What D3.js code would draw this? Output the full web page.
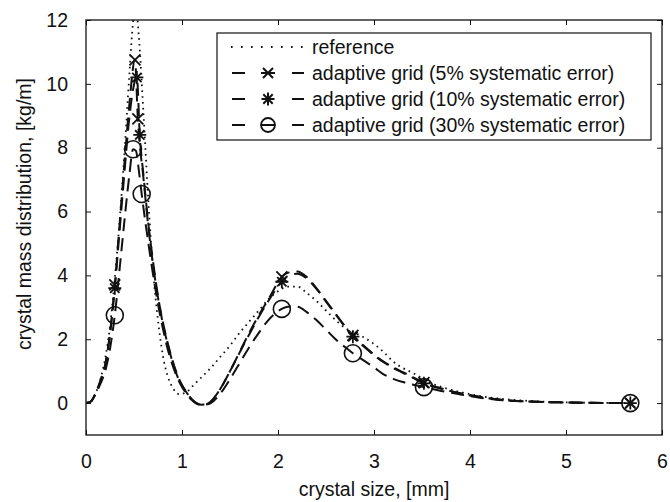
<!DOCTYPE html>
<html>
<head>
<meta charset="utf-8">
<script src="https://cdn.jsdelivr.net/npm/d3@7"></script>
<style>
  body { margin: 0; background: #fff; }
  svg text { font-family: "Liberation Sans", Arial, sans-serif; fill: #111; }
</style>
</head>
<body>
<svg id="chart" width="670" height="502"></svg>
<script>
// reference solution (dotted)
const refSize = [0, 0.05, 0.1, 0.15, 0.2, 0.25, 0.3, 0.35, 0.4, 0.45, 0.5, 0.52, 0.55, 0.6, 0.65, 0.7, 0.75, 0.8, 0.85, 0.9, 0.97, 1.05, 1.1, 1.2, 1.3, 1.4, 1.5, 1.6, 1.7, 1.8, 1.9, 2.0, 2.1, 2.2, 2.3, 2.4, 2.5, 2.6, 2.7, 2.8, 2.9, 3.0, 3.1, 3.2, 3.3, 3.4, 3.5, 3.6, 3.8, 4.0, 4.3, 4.6, 5.0, 5.67];
const refMass = [0, 0.05, 0.3, 0.75, 1.4, 2.4, 3.9, 5.7, 7.8, 10.2, 12.2, 12.4, 11.5, 9.0, 6.3, 4.1, 2.6, 1.5, 0.85, 0.5, 0.28, 0.35, 0.5, 0.8, 1.1, 1.45, 1.8, 2.2, 2.55, 2.9, 3.25, 3.5, 3.65, 3.65, 3.45, 3.2, 2.9, 2.6, 2.35, 2.2, 2.05, 1.85, 1.6, 1.3, 1.1, 0.95, 0.78, 0.62, 0.42, 0.28, 0.14, 0.07, 0.02, 0];

// adaptive grid, 5% systematic error
const g5Size = [0, 0.05, 0.1, 0.15, 0.2, 0.25, 0.3, 0.35, 0.4, 0.45, 0.51, 0.54, 0.6, 0.65, 0.7, 0.75, 0.8, 0.85, 0.9, 0.95, 1.0, 1.05, 1.1, 1.15, 1.2, 1.25, 1.3, 1.4, 1.5, 1.6, 1.7, 1.8, 1.9, 2.04, 2.1, 2.2, 2.3, 2.4, 2.5, 2.6, 2.7, 2.78, 2.9, 3.0, 3.1, 3.2, 3.3, 3.4, 3.52, 3.7, 3.9, 4.1, 4.3, 4.6, 5.0, 5.67];
const g5Mass = [0, 0.05, 0.3, 0.7, 1.2, 2.2, 3.7, 5.6, 7.5, 9.3, 10.75, 8.9, 7.0, 5.5, 4.3, 3.3, 2.5, 1.85, 1.3, 0.85, 0.55, 0.32, 0.12, 0.0, -0.05, -0.04, 0.05, 0.45, 1.0, 1.6, 2.2, 2.75, 3.25, 3.95, 4.08, 4.12, 3.95, 3.6, 3.2, 2.8, 2.4, 2.12, 1.78, 1.52, 1.3, 1.12, 0.97, 0.82, 0.64, 0.46, 0.31, 0.2, 0.11, 0.05, 0.02, 0];

// adaptive grid, 10% systematic error
const g10Size = [0, 0.05, 0.1, 0.15, 0.2, 0.25, 0.3, 0.35, 0.4, 0.45, 0.53, 0.56, 0.6, 0.65, 0.7, 0.75, 0.8, 0.85, 0.9, 0.95, 1.0, 1.05, 1.1, 1.15, 1.2, 1.25, 1.3, 1.4, 1.5, 1.6, 1.7, 1.8, 1.9, 2.04, 2.1, 2.2, 2.3, 2.4, 2.5, 2.6, 2.7, 2.78, 2.9, 3.0, 3.1, 3.2, 3.3, 3.4, 3.52, 3.7, 3.9, 4.1, 4.3, 4.6, 5.0, 5.67];
const g10Mass = [0, 0.05, 0.3, 0.7, 1.2, 2.15, 3.6, 5.4, 7.2, 8.9, 10.2, 8.4, 7.1, 5.6, 4.4, 3.35, 2.55, 1.9, 1.35, 0.9, 0.57, 0.33, 0.13, 0.0, -0.05, -0.04, 0.05, 0.45, 1.0, 1.58, 2.15, 2.7, 3.2, 3.8, 3.98, 4.05, 3.9, 3.58, 3.18, 2.78, 2.38, 2.08, 1.76, 1.5, 1.28, 1.1, 0.95, 0.8, 0.62, 0.45, 0.3, 0.19, 0.11, 0.05, 0.02, 0];

// adaptive grid, 30% systematic error
const g30Size = [0, 0.05, 0.1, 0.15, 0.2, 0.25, 0.3, 0.35, 0.4, 0.45, 0.49, 0.52, 0.55, 0.58, 0.65, 0.7, 0.75, 0.8, 0.85, 0.9, 0.95, 1.0, 1.05, 1.1, 1.15, 1.2, 1.25, 1.3, 1.4, 1.5, 1.6, 1.7, 1.8, 1.9, 2.04, 2.1, 2.2, 2.3, 2.4, 2.5, 2.6, 2.7, 2.78, 2.9, 3.0, 3.1, 3.2, 3.3, 3.4, 3.52, 3.7, 3.9, 4.1, 4.3, 4.6, 5.0, 5.67];
const g30Mass = [0, 0.05, 0.3, 0.6, 1.0, 1.7, 2.75, 4.2, 5.7, 7.1, 7.95, 7.9, 7.3, 6.55, 5.0, 4.0, 3.1, 2.35, 1.7, 1.2, 0.8, 0.5, 0.28, 0.1, -0.02, -0.06, -0.05, 0.0, 0.3, 0.75, 1.25, 1.75, 2.2, 2.6, 2.95, 3.02, 3.02, 2.85, 2.6, 2.3, 2.0, 1.75, 1.56, 1.32, 1.12, 0.9, 0.76, 0.66, 0.58, 0.5, 0.38, 0.27, 0.17, 0.1, 0.05, 0.02, 0];

// grid nodes (markers)
const n5Size = [0.3, 0.51, 0.54, 2.04, 2.78, 3.52, 5.67];
const n5Mass = [3.7, 10.75, 8.9, 3.95, 2.12, 0.64, 0];
const n10Size = [0.3, 0.53, 0.56, 2.04, 2.78, 3.52, 5.67];
const n10Mass = [3.6, 10.2, 8.4, 3.8, 2.08, 0.62, 0];
const n30Size = [0.3, 0.49, 0.58, 2.04, 2.78, 3.52, 5.67];
const n30Mass = [2.75, 7.95, 6.55, 2.95, 1.56, 0.5, 0];

const xTicks = [0, 1, 2, 3, 4, 5, 6];
const yTicks = [0, 2, 4, 6, 8, 10, 12];
const legendLabels = ["reference", "adaptive grid (5% systematic error)", "adaptive grid (10% systematic error)", "adaptive grid (30% systematic error)"];

const margin = { left: 86, right: 8, top: 20, bottom: 67 };
const W = 670, H = 502;
const FS = 19.5;
const svg = d3.select("#chart");

const x = d3.scaleLinear().domain([0, 6]).range([margin.left, W - margin.right]);
const y = d3.scaleLinear().domain([-1, 12]).range([H - margin.bottom, margin.top]);

svg.append("defs").append("clipPath").attr("id", "clip")
  .append("rect")
  .attr("x", x(0)).attr("y", y(12))
  .attr("width", x(6) - x(0)).attr("height", y(-1) - y(12));

const plot = svg.append("g").attr("clip-path", "url(#clip)");

const line = d3.line().x(d => x(d[0])).y(d => y(d[1])).curve(d3.curveMonotoneX);
const zip = (a, b) => a.map((v, i) => [v, b[i]]);

// reference dotted
plot.append("path").datum(zip(refSize, refMass))
  .attr("d", line).attr("fill", "none").attr("stroke", "#111")
  .attr("stroke-width", 1.8).attr("stroke-dasharray", "1.6,4.2");

const dash = "13,7";
[[g5Size, g5Mass], [g10Size, g10Mass], [g30Size, g30Mass]].forEach(([s, m]) => {
  plot.append("path").datum(zip(s, m))
    .attr("d", line).attr("fill", "none").attr("stroke", "#111")
    .attr("stroke-width", 2).attr("stroke-dasharray", dash);
});

// marker paths
const mk = {
  cross: r => `M${-r},${-r}L${r},${r}M${-r},${r}L${r},${-r}`,
  star: r => `M${-r},0L${r},0M0,${-r}L0,${r}M${-r * 0.72},${-r * 0.72}L${r * 0.72},${r * 0.72}M${-r * 0.72},${r * 0.72}L${r * 0.72},${-r * 0.72}`
};

function drawMarkers(g, sizes, masses, type) {
  const pts = zip(sizes, masses);
  if (type === "circle") {
    g.selectAll(null).data(pts).join("circle")
      .attr("cx", d => x(d[0])).attr("cy", d => y(d[1])).attr("r", 8.5)
      .attr("fill", "none").attr("stroke", "#111").attr("stroke-width", 1.6);
  } else {
    g.selectAll(null).data(pts).join("path")
      .attr("transform", d => `translate(${x(d[0])},${y(d[1])})`)
      .attr("d", type === "cross" ? mk.cross(5.5) : mk.star(6.5))
      .attr("fill", "none").attr("stroke", "#111").attr("stroke-width", 1.8);
  }
}
drawMarkers(plot.append("g"), n5Size, n5Mass, "cross");
drawMarkers(plot.append("g"), n10Size, n10Mass, "star");
drawMarkers(plot.append("g"), n30Size, n30Mass, "circle");

// axes box with inward ticks on all four sides
const tickLen = 5;
const axisStyle = g => {
  g.select(".domain").remove();
  g.selectAll("line").attr("stroke", "#111").attr("stroke-width", 1);
  g.selectAll("text").attr("font-size", FS);
};
svg.append("g").attr("transform", `translate(0,${y(-1)})`)
  .call(d3.axisBottom(x).tickValues(xTicks).tickSize(-tickLen).tickPadding(19).tickFormat(d3.format("d")))
  .call(axisStyle);
svg.append("g").attr("transform", `translate(0,${y(12)})`)
  .call(d3.axisTop(x).tickValues(xTicks).tickSize(-tickLen).tickFormat(""))
  .call(axisStyle);
svg.append("g").attr("transform", `translate(${x(0)},0)`)
  .call(d3.axisLeft(y).tickValues(yTicks).tickSize(-tickLen).tickPadding(18).tickFormat(d3.format("d")))
  .call(axisStyle);
svg.append("g").attr("transform", `translate(${x(6)},0)`)
  .call(d3.axisRight(y).tickValues(yTicks).tickSize(-tickLen).tickFormat(""))
  .call(axisStyle);

svg.append("rect")
  .attr("x", x(0)).attr("y", y(12)).attr("width", x(6) - x(0)).attr("height", y(-1) - y(12))
  .attr("fill", "none").attr("stroke", "#111").attr("stroke-width", 1.3);

svg.append("text").attr("x", (x(0) + x(6)) / 2).attr("y", 496)
  .attr("text-anchor", "middle").attr("font-size", FS).text("crystal size, [mm]");
svg.append("text")
  .attr("transform", `translate(31,214) rotate(-90)`)
  .attr("text-anchor", "middle").attr("font-size", FS).text("crystal mass distribution, [kg/m]");

// legend
const leg = svg.append("g");
leg.append("rect").attr("x", 217).attr("y", 33).attr("width", 434).attr("height", 107)
  .attr("fill", "#fff").attr("stroke", "#111").attr("stroke-width", 1.2);
const rowY = [47, 73, 99, 125];
const types = [null, "cross", "star", "circle"];
legendLabels.forEach((lab, i) => {
  const ry = rowY[i];
  if (i === 0) {
    leg.append("line").attr("x1", 231).attr("x2", 304).attr("y1", ry).attr("y2", ry)
      .attr("stroke", "#111").attr("stroke-width", 1.8).attr("stroke-dasharray", "1.6,8.4");
  } else {
    [[232, 245], [292, 304]].forEach(([a, b]) =>
      leg.append("line").attr("x1", a).attr("x2", b).attr("y1", ry).attr("y2", ry)
        .attr("stroke", "#111").attr("stroke-width", 2));
    const mg = leg.append("g");
    if (types[i] === "circle") {
      mg.append("circle").attr("cx", 268).attr("cy", ry).attr("r", 7)
        .attr("fill", "none").attr("stroke", "#111").attr("stroke-width", 1.8);
      mg.append("line").attr("x1", 261).attr("x2", 275).attr("y1", ry).attr("y2", ry)
        .attr("stroke", "#111").attr("stroke-width", 2);
    } else {
      mg.append("path").attr("transform", `translate(268,${ry})`)
        .attr("d", types[i] === "cross" ? mk.cross(5) + `M-7,0L7,0` : mk.star(6.5))
        .attr("fill", "none").attr("stroke", "#111").attr("stroke-width", 2);
    }
  }
  leg.append("text").attr("x", 312).attr("y", ry).attr("dy", "0.35em")
    .attr("font-size", FS).text(lab);
});
</script>
</body>
</html>
